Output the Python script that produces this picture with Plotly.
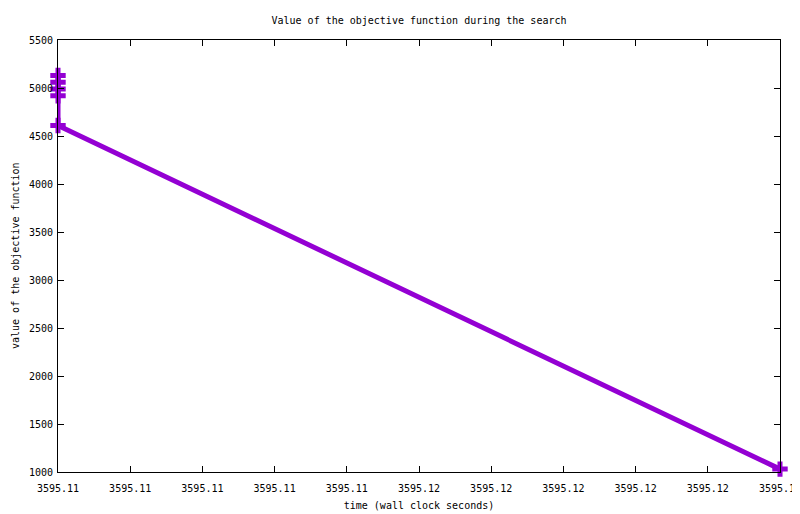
import plotly.graph_objects as go

# data
times = [3595.110, 3595.110, 3595.110, 3595.110, 3595.110, 3595.120]
objective = [5130, 5060, 4990, 4920, 4610, 1030]

x_tick_values = [3595.110, 3595.111, 3595.112, 3595.113, 3595.114, 3595.115,
                 3595.116, 3595.117, 3595.118, 3595.119, 3595.120]
x_tick_labels = ["3595.11", "3595.11", "3595.11", "3595.11", "3595.11", "3595.12",
                 "3595.12", "3595.12", "3595.12", "3595.12", "3595.12"]
y_tick_values = [1000, 1500, 2000, 2500, 3000, 3500, 4000, 4500, 5000, 5500]

FONT = "DejaVu Sans Mono"
VIOLET = "#9400D3"

# the page places the figure 8px from the window's top-left corner
W, H = 792, 506
L, R, T, B = 50, 20, 32, 42

fig = go.Figure()
fig.add_trace(go.Scatter(
    x=times, y=objective, mode="lines+markers",
    line=dict(color=VIOLET, width=5),
    marker=dict(symbol="cross-thin", size=11, color=VIOLET,
                line=dict(color=VIOLET, width=5)),
    cliponaxis=False, showlegend=False,
))

axis_common = dict(
    showgrid=False, zeroline=False, showline=True, linecolor="black",
    linewidth=1, mirror="ticks", ticks="inside", ticklen=6, tickcolor="black",
    tickfont=dict(family=FONT, size=10, color="black"),
    automargin=False,
)

fig.update_layout(
    width=W, height=H,
    margin=dict(l=L, r=R, t=T, b=B),
    paper_bgcolor="white", plot_bgcolor="white",
    font=dict(family=FONT, size=10, color="black"),
    title=dict(text="Value of the objective function during the search",
               x=(L + (W - R)) / 2 / W, xanchor="center", y=1 - 12 / H, yanchor="middle",
               font=dict(family=FONT, size=10, color="black")),
    xaxis=dict(range=[x_tick_values[0], x_tick_values[-1]], tickmode="array",
               tickvals=x_tick_values, ticktext=x_tick_labels,
               ticklabeloverflow="allow", ticklabelstandoff=7,
               title=dict(text="time (wall clock seconds)", standoff=8,
                          font=dict(family=FONT, size=10, color="black")),
               **axis_common),
    yaxis=dict(range=[1000, 5500], tickmode="array", tickvals=y_tick_values,
               ticktext=[str(v) for v in y_tick_values],
               ticklabelstandoff=2,
               **axis_common),
    annotations=[dict(text="value of the objective function", textangle=-90,
                      xref="paper", yref="paper", x=-(L - 7) / (W - L - R), y=0.5,
                      xanchor="center", yanchor="middle", showarrow=False,
                      font=dict(family=FONT, size=10, color="black"))],
)

fig.write_html("out.html")
